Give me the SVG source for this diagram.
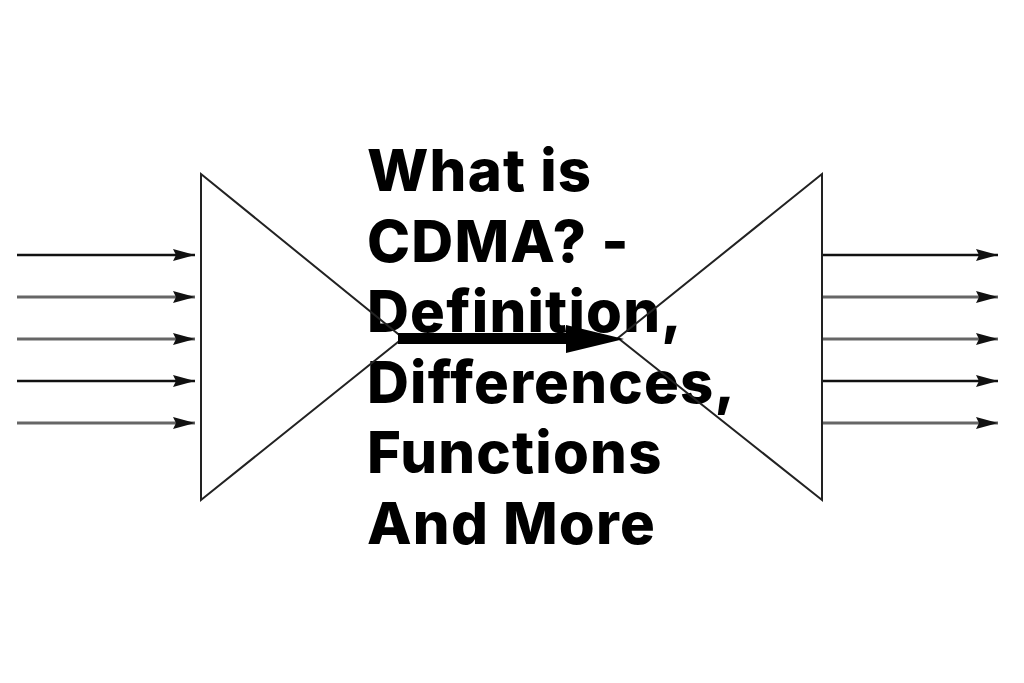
<svg xmlns="http://www.w3.org/2000/svg" width="1024" height="683" viewBox="0 0 1024 683">
<style>
.tri{fill:none;stroke:#222;stroke-width:2}
.sig{stroke:#111;stroke-width:2.5}
.sig.g{stroke:#666;stroke-width:3}
.title{font-family:Inter,"Noto Sans",sans-serif;font-weight:800;font-size:58px;letter-spacing:1.2px;fill:#000}
</style>
<defs>
<marker id="ah" markerWidth="22" markerHeight="12" refX="22" refY="6" orient="auto" markerUnits="userSpaceOnUse" viewBox="0 0 22 12">
<path d="M0,0 L22,6 L0,12 L3,6 Z" fill="#111"/>
</marker>
</defs>
<rect width="1024" height="683" fill="#fff"/>
<g id="connectors">
<line class="sig" x1="17" y1="255" x2="195" y2="255" marker-end="url(#ah)"/>
<line class="sig g" x1="17" y1="297" x2="195" y2="297" marker-end="url(#ah)"/>
<line class="sig g" x1="17" y1="339" x2="195" y2="339" marker-end="url(#ah)"/>
<line class="sig" x1="17" y1="381" x2="195" y2="381" marker-end="url(#ah)"/>
<line class="sig g" x1="17" y1="423" x2="195" y2="423" marker-end="url(#ah)"/>
<line class="sig" x1="823" y1="255" x2="998" y2="255" marker-end="url(#ah)"/>
<line class="sig g" x1="823" y1="297" x2="998" y2="297" marker-end="url(#ah)"/>
<line class="sig g" x1="823" y1="339" x2="998" y2="339" marker-end="url(#ah)"/>
<line class="sig" x1="823" y1="381" x2="998" y2="381" marker-end="url(#ah)"/>
<line class="sig g" x1="823" y1="423" x2="998" y2="423" marker-end="url(#ah)"/>
</g>
<g id="title">
<text class="title" x="367" y="191">What is</text>
<text class="title" x="367" y="261.5">CDMA? -</text>
<text class="title" x="367" y="332">Definition,</text>
<text class="title" x="367" y="402.5">Differences,</text>
<text class="title" x="367" y="473">Functions</text>
<text class="title" x="367" y="543.5">And More</text>
</g>
<g id="mux">
<path class="tri" d="M201,174 L403,338 L201,500 Z"/>
</g>
<g id="demux">
<path class="tri" d="M822,174 L618,338 L822,500 Z"/>
</g>
<g id="main-arrow">
<rect x="398" y="333" width="172" height="11" fill="#000"/>
<path d="M566,325 L624,339 L566,353 Z" fill="#000"/>
</g>
</svg>
